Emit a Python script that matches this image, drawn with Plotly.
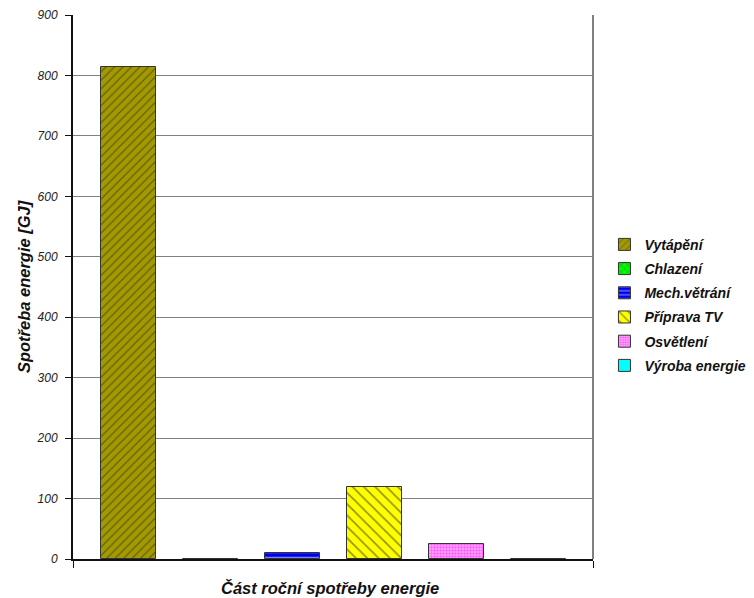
import plotly.graph_objects as go

series = ["Vytápění", "Chlazení", "Mech.větrání", "Příprava TV", "Osvětlení", "Výroba energie"]
values = [814, 0, 10.5, 119, 25, 0]
bg_colors = ["#A39A00", "#00FF00", "#0000F0", "#FFFF00", "#FFB3FF", "#00FFFF"]
fg_colors = ["#222222", "#111111", "#FFFFFF", "#222222", "#FF00FF", "#00FFFF"]
shapes_pat = ["/", "x", "-", "\\", ".", ""]
pat_sizes = [6, 6, 5, 8, 3, 8]
pat_solid = [0.2, 0.2, 0.3, 0.2, 0.5, 0.2]
y_ticks = [0, 100, 200, 300, 400, 500, 600, 700, 800, 900]

FONT = "Liberation Sans, Arial, sans-serif"

fig = go.Figure()
for i, name in enumerate(series):
    fig.add_trace(go.Bar(
        x=[i], y=[values[i]], name=name, width=0.665,
        legendgroup=name,
        marker=dict(
            color=bg_colors[i],
            line=dict(color="#333333", width=1),
            pattern=dict(shape=shapes_pat[i], fgcolor=fg_colors[i], bgcolor=bg_colors[i],
                         size=pat_sizes[i], solidity=pat_solid[i]),
        ),
    ))

fig.update_layout(
    width=746, height=590,
    margin=dict(l=65, r=161, t=7, b=39, autoexpand=False),
    paper_bgcolor="white", plot_bgcolor="white",
    showlegend=True,
    legend=dict(
        x=1.022, y=0.607, xanchor="left", yanchor="top",
        font=dict(family=FONT, size=14, color="#111", weight="bold", style="italic"),
        tracegroupgap=3, itemwidth=30, bgcolor="rgba(0,0,0,0)",
    ),
    xaxis=dict(
        range=[-0.676, 5.663], showgrid=False, zeroline=False,
        showline=True, linecolor="#111", linewidth=2,
        tickvals=[-0.676, 5.663], ticks="outside", ticklen=7, tickcolor="#111",
        showticklabels=False, automargin=False,
    ),
    yaxis=dict(
        range=[0, 900], tickvals=y_ticks, showgrid=True, gridcolor="#808080", gridwidth=1,
        zeroline=False, showline=True, linecolor="#111", linewidth=2,
        ticks="outside", ticklen=6, tickcolor="#111", automargin=False,
        ticklabelstandoff=5,
        tickfont=dict(family=FONT, size=12, color="#222", style="italic"),
    ),
    bargap=0,
    shapes=[dict(type="line", xref="paper", yref="paper", x0=1, x1=1, y0=0, y1=1,
                 line=dict(color="#808080", width=2))],
    annotations=[
        dict(text="Spotřeba energie [GJ]", xref="paper", yref="paper", x=-0.094, y=0.5,
             textangle=-90, showarrow=False, xanchor="center", yanchor="middle",
             font=dict(family=FONT, size=16.5, color="#111", weight="bold", style="italic")),
        dict(text="Část roční spotřeby energie", xref="paper", yref="paper", x=0.494, y=-0.053,
             showarrow=False, xanchor="center", yanchor="middle",
             font=dict(family=FONT, size=16.5, color="#111", weight="bold", style="italic")),
    ],
)

fig.write_html("out.html")
